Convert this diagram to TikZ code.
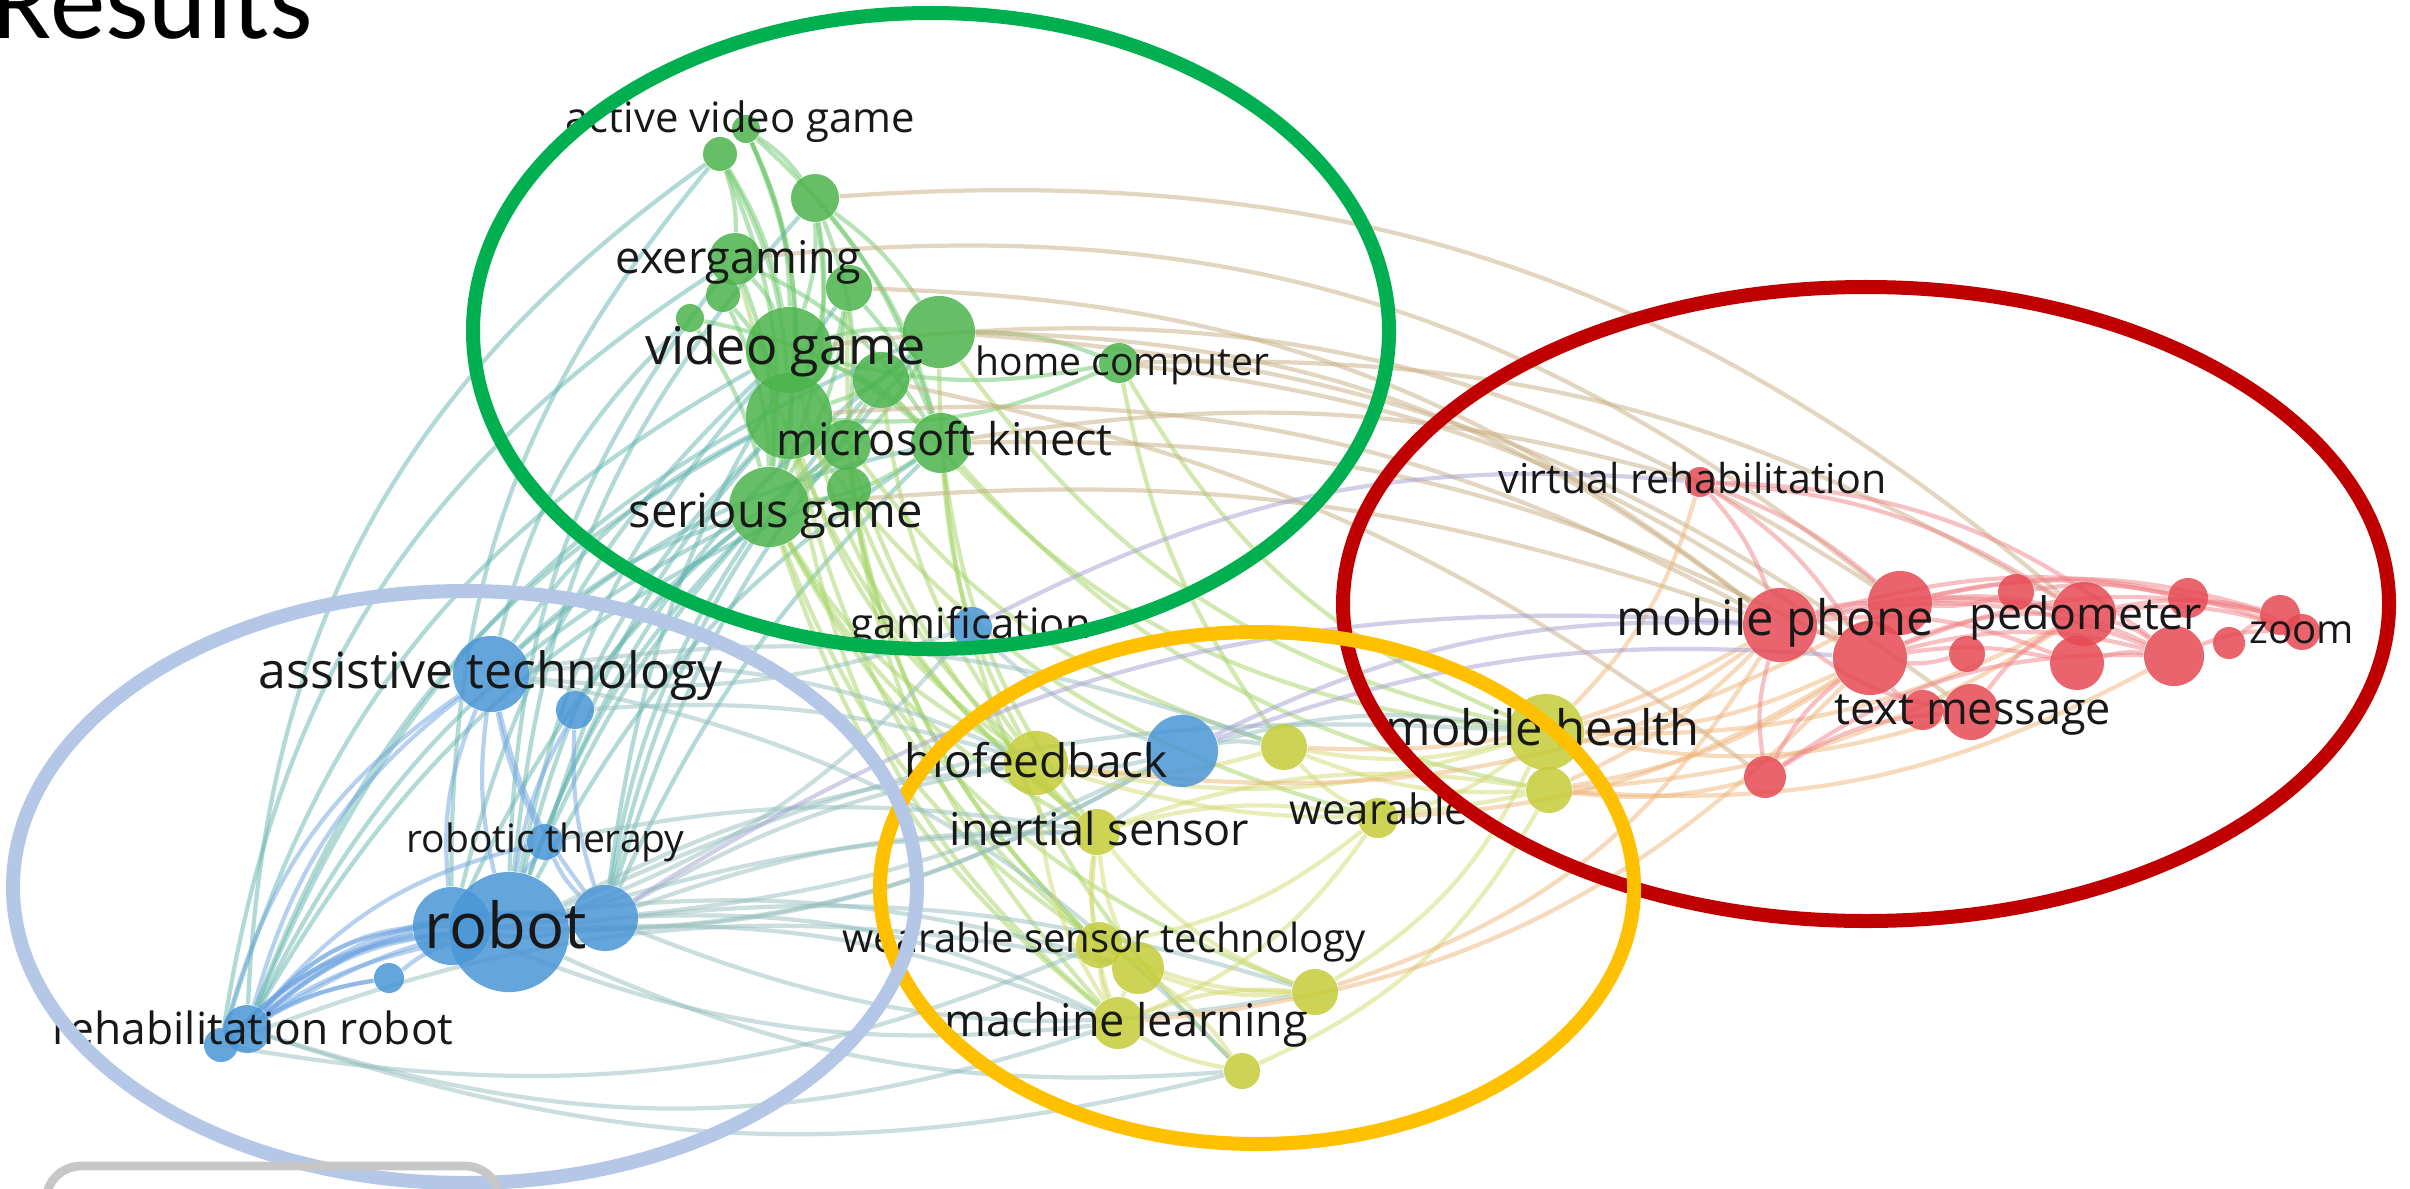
\documentclass[tikz,border=0pt]{standalone}
\usepackage{fontspec}
\newfontfamily\osans{Open Sans}
\newfontfamily\carl{Carlito}
\definecolor{vgreen}{RGB}{76,180,76}
\definecolor{vblue}{RGB}{74,150,214}
\definecolor{vyellow}{RGB}{196,204,56}
\definecolor{vred}{RGB}{230,74,84}
\definecolor{elgreen}{RGB}{0,176,80}
\definecolor{elred}{RGB}{192,0,0}
\definecolor{elyellow}{RGB}{255,192,0}
\definecolor{elblue}{RGB}{180,199,231}
\definecolor{labc}{RGB}{24,24,24}
\definecolor{cg}{RGB}{110,200,110}
\definecolor{cgb}{RGB}{100,180,175}
\definecolor{cgy}{RGB}{165,212,100}
\definecolor{cgr}{RGB}{200,175,130}
\definecolor{cb}{RGB}{110,165,225}
\definecolor{cby}{RGB}{150,190,190}
\definecolor{cy}{RGB}{210,218,110}
\definecolor{cyr}{RGB}{240,180,120}
\definecolor{cr}{RGB}{240,130,135}
\definecolor{cbr}{RGB}{165,160,210}
\pgfdeclarelayer{bgl}
\pgfdeclarelayer{edges}
\pgfsetlayers{bgl,edges,main}
\begin{document}
\begin{tikzpicture}[x=0.01cm,y=-0.01cm,
  bub/.style={circle,inner sep=0pt,minimum size=#1*0.02cm,fill opacity=0.85,draw=none},
  gb/.style={bub=#1,fill=vgreen},
  bb/.style={bub=#1,fill=vblue},
  yb/.style={bub=#1,fill=vyellow},
  rb/.style={bub=#1,fill=vred},
  lab/.style={inner sep=0pt,anchor=base west,text=labc,font=\osans\fontsize{#1}{#1}\selectfont},
  ed/.style={line width=1.2pt,draw opacity=0.5,draw=#1},
  ring/.style={draw=#1,line width=0.14cm,fill=none}]
\useasboundingbox (0,0) rectangle (2410,1188);
\clip (0,0) rectangle (2410,1188);
\begin{pgfonlayer}{bgl}
\fill[white] (0,0) rectangle (2410,1188);
\end{pgfonlayer}

% title
\node[inner sep=0pt,anchor=base east,font=\carl\fontsize{31.6pt}{31.6pt}\selectfont] (title) at (314,39) {Results};

% ---------- green nodes
\node[gb=17] (g1) at (720,154) {};
\node[gb=14] (g2) at (746,129) {};
\node[gb=24] (g3) at (815,198) {};
\node[gb=26] (g4) at (735,259) {};
\node[gb=17] (g5) at (723,295) {};
\node[gb=23] (g6) at (849,288) {};
\node[gb=14] (g7) at (690,318) {};
\node[gb=43] (g8) at (789,350) {};
\node[gb=36] (g9) at (939,332) {};
\node[gb=28] (g10) at (881,380) {};
\node[gb=20] (g11) at (1119,363) {};
\node[gb=43] (g12) at (789,416) {};
\node[gb=25] (g13) at (846,445) {};
\node[gb=30] (g14) at (941,443) {};
\node[gb=22] (g15) at (849,489) {};
\node[gb=40] (g16) at (769,507) {};
% ---------- blue nodes
\node[bb=38] (b1) at (491,674) {};
\node[bb=19] (b2) at (575,710) {};
\node[bb=18] (b3) at (545,842) {};
\node[bb=39] (b5) at (452,926) {};
\node[bb=60] (b4) at (509,932) {};
\node[bb=33] (b6) at (605,918) {};
\node[bb=15] (b7) at (389,978) {};
\node[bb=24] (b8) at (247,1029) {};
\node[bb=17] (b9) at (221,1045) {};
\node[bb=20] (b10) at (972,627) {};
\node[bb=36] (b11) at (1182,751) {};
% ---------- yellow nodes
\node[yb=32] (y1) at (1036,763) {};
\node[yb=23] (y2) at (1284,747) {};
\node[yb=23] (y3) at (1097,832) {};
\node[yb=20] (y4) at (1378,818) {};
\node[yb=38] (y5) at (1546,732) {};
\node[yb=23] (y6) at (1549,790) {};
\node[yb=23] (y7) at (1099,945) {};
\node[yb=26] (y8) at (1138,968) {};
\node[yb=23] (y9) at (1315,992) {};
\node[yb=26] (y10) at (1118,1023) {};
\node[yb=18] (y11) at (1242,1071) {};
% ---------- red nodes
\node[rb=15] (r1) at (1700,482) {};
\node[rb=37] (r2) at (1780,625) {};
\node[rb=32] (r3) at (1900,603) {};
\node[rb=37] (r4) at (1870,658) {};
\node[rb=18] (r5) at (2016,592) {};
\node[rb=32] (r6) at (2084,614) {};
\node[rb=18] (r7) at (1967,654) {};
\node[rb=27] (r8) at (2077,663) {};
\node[rb=20] (r9) at (2188,598) {};
\node[rb=30] (r10) at (2174,656) {};
\node[rb=16] (r11) at (2229,643) {};
\node[rb=20] (r12) at (2280,615) {};
\node[rb=18] (r13) at (2302,632) {};
\node[rb=20] (r14) at (1923,710) {};
\node[rb=28] (r15) at (1971,712) {};
\node[rb=21] (r16) at (1765,777) {};

% ---------- edges
\begin{pgfonlayer}{edges}
\foreach \p/\q/\k in {g1/g8/10,g1/g12/12,g1/g16/14,g2/g3/10,g2/g8/12,g2/g14/15,g3/g8/10,g3/g14/12,g3/g16/15,g3/g9/10,g4/g8/10,g4/g16/12,g4/g14/15,g5/g12/10,g6/g14/10,g6/g16/12,g7/g16/10,g8/g9/10,g8/g14/12,g8/g16/10,g9/g12/12,g9/g16/12,g9/g11/10,g10/g16/10,g11/g8/12,g11/g12/14,g12/g16/10,g13/g16/10,g14/g16/12,g15/g16/10,g6/g12/12,g3/g12/15,g1/g4/10,g2/g12/14,g2/g16/18,g7/g14/14,g5/g16/12,g3/g13/14}
  \draw[ed=cg] (\p) to[bend left=\k] (\q);
\foreach \p/\q/\k in {g8/b4/15,g12/b4/15,g16/b4/12,g16/b1/12,g12/b1/14,g8/b5/16,g14/b4/14,g16/b8/18,g12/b8/20,g9/b4/16,g4/b4/18,g16/b6/12,g3/b4/18,g14/b1/14,g16/b2/10,g8/b9/22,g6/b6/14,g1/b5/20,g4/b9/24,g9/b8/22,g13/b5/14,g15/b8/18,g10/b6/14,g1/b8/26,g7/b1/16,g14/b6/10,g16/b3/8,g12/b3/12,g9/b6/12}
  \draw[ed=cgb] (\p) to[bend right=\k] (\q);
\foreach \p/\q/\k in {g16/y1/15,g12/y1/18,g8/y3/18,g14/y3/14,g16/y10/16,g12/y10/20,g9/y5/20,g14/y1/12,g16/y8/18,g8/y2/20,g12/y4/18,g14/y6/18,g16/y9/20,g10/y5/22,g11/y5/18,g16/y3/16,g15/y1/12,g13/y7/18,g9/y11/22,g6/y10/22,g13/y3/14,g15/y7/16,g10/y1/14,g4/y3/18,g12/y7/18,g11/y2/12}
  \draw[ed=cgy] (\p) to[bend right=\k] (\q);
\foreach \p/\q/\k in {g9/r2/18,g11/r4/14,g8/r3/20,g12/r2/16,g14/r4/14,g3/r6/22,g6/r2/18,g9/r15/16,g10/r16/12,g4/r3/22,g14/r1/12,g11/r6/16,g16/r2/12}
  \draw[ed=cgr] (\p) to[bend left=\k] (\q);
\foreach \p/\q/\k in {b1/b4/10,b1/b5/14,b1/b3/8,b2/b4/10,b3/b4/8,b4/b8/18,b4/b9/20,b5/b8/14,b5/b9/16,b6/b8/22,b4/b7/10,b7/b8/10,b1/b8/18,b1/b9/20,b2/b6/10,b4/b6/10,b5/b6/14,b1/b6/12,b3/b6/10,b6/b9/24,b7/b9/12,b3/b8/18,b4/b8/26,b4/b9/12,b6/b8/14,b5/b8/22}
  \draw[ed=cb] (\p) to[bend right=\k] (\q);
\foreach \p/\q/\k in {b10/b4/14,b11/b4/14,b11/b10/12,b11/b5/16,b4/y1/10,b4/y3/8,b6/y1/10,b4/y10/12,b5/y8/12,b6/y3/10,b1/y1/14,b4/y5/14,b11/y1/10,b11/y3/10,b11/y2/10,b11/y5/12,b6/y10/14,b4/y9/12,b1/y2/14,b3/y3/10,b1/y11/18,b9/y8/16,b11/b6/10,b10/b1/12,b2/y1/10}
  \draw[ed=cby] (\p) to[bend left=\k] (\q);
\foreach \p/\q/\k in {b4/y11/14,b5/y10/14,b8/y10/18,b9/y7/16,b6/y9/16,b8/y11/16}
  \draw[ed=cby] (\p) to[bend right=\k] (\q);
\foreach \p/\q/\k in {y1/y3/10,y1/y2/12,y1/y5/14,y3/y7/10,y3/y8/10,y3/y10/12,y7/y10/10,y8/y10/10,y8/y9/12,y9/y10/12,y10/y11/10,y2/y5/12,y4/y5/12,y4/y3/12,y2/y6/12,y1/y10/14,y3/y9/14,y7/y9/12,y6/y3/14,y11/y8/10,y1/y6/14,y9/y5/16,y10/y4/16,y11/y6/18,y2/y4/10,y7/y4/14}
  \draw[ed=cy] (\p) to[bend right=\k] (\q);
\foreach \p/\q/\k in {y5/r2/12,y5/r4/12,y6/r4/12,y5/r15/14,y6/r16/10,y5/r1/14,y2/r2/16,y4/r4/14,y9/r2/20,y6/r6/14,y1/r3/18,y10/r4/20,y6/r10/16,y5/r6/14,y6/r2/10}
  \draw[ed=cyr] (\p) to[bend right=\k] (\q);
\foreach \p/\q/\k in {r1/r2/10,r1/r4/12,r1/r3/10,r1/r6/14,r1/r10/18,r2/r3/10,r2/r4/10,r3/r6/10,r4/r6/12,r2/r8/14,r3/r9/12,r4/r10/14,r6/r10/10,r6/r12/12,r8/r10/10,r9/r13/10,r10/r13/12,r5/r9/10,r5/r3/10,r7/r4/10,r14/r4/10,r15/r6/12,r15/r2/14,r16/r2/12,r16/r4/12,r16/r15/14,r11/r12/10,r6/r13/12,r3/r10/14,r2/r10/16,r4/r12/16,r2/r13/18,r16/r10/18,r2/r6/12,r4/r8/10,r3/r12/14}
  \draw[ed=cr] (\p) to[bend left=\k] (\q);
\foreach \p/\q/\k in {b11/r2/14,b10/r1/16,b11/r4/12,b6/r2/18}
  \draw[ed=cbr] (\p) to[bend left=\k] (\q);
\end{pgfonlayer}

% ---------- labels
\node[lab=11.9pt] (tAVG) at (565,133) {active video game};
\node[lab=12.8pt] (tEXE) at (615,273) {exergaming};
\node[lab=14.8pt] (tVG) at (645,364) {video game};
\node[lab=11.1pt] (tHC) at (975,375) {home computer};
\node[lab=12.8pt] (tMK) at (776,455) {microsoft kinect};
\node[lab=13.4pt] (tSG) at (628,527) {serious game};
\node[lab=11.9pt] (tGAM) at (850,638) {gamification};
\node[lab=14.2pt] (tAT) at (258,688) {assistive technology};
\node[lab=11.1pt] (tRT) at (406,852) {robotic therapy};
\node[lab=18pt] (tROB) at (424,948) {robot};
\node[lab=12.6pt] (tRR) at (52,1044) {rehabilitation robot};
\node[lab=13.1pt] (tBIO) at (904,777) {biofeedback};
\node[lab=12.8pt] (tIS) at (949,845) {inertial sensor};
\node[lab=11.9pt] (tWE) at (1289,824) {wearable};
\node[lab=11.4pt] (tWST) at (842,952) {wearable sensor technology};
\node[lab=12.8pt] (tML) at (944,1036) {machine learning};
\node[lab=13.9pt] (tMH) at (1385,745) {mobile health};
\node[lab=11.7pt] (tVR) at (1498,493) {virtual rehabilitation};
\node[lab=13.9pt] (tMP) at (1616,635) {mobile phone};
\node[lab=12.7pt] (tPED) at (1969,629) {pedometer};
\node[lab=11.4pt] (tZOOM) at (2249,643) {zoom};
\node[lab=12.8pt] (tTM) at (1834,724) {text message};

% ---------- cluster rings
\draw[ring=elgreen] (931,331) ellipse [x radius=458, y radius=318];
\draw[ring=elred] (1866,604) ellipse [x radius=523, y radius=317];
\draw[ring=elyellow] (1257,888) ellipse [x radius=377, y radius=256];
\draw[ring=elblue] (465,887) ellipse [x radius=452, y radius=296];

% ---------- panel corner at bottom
\draw[black!22,line width=2.5pt,rounded corners=0.35cm] (46,1250) -- (46,1166) -- (500,1166) -- (500,1250);
\end{tikzpicture}
\end{document}
